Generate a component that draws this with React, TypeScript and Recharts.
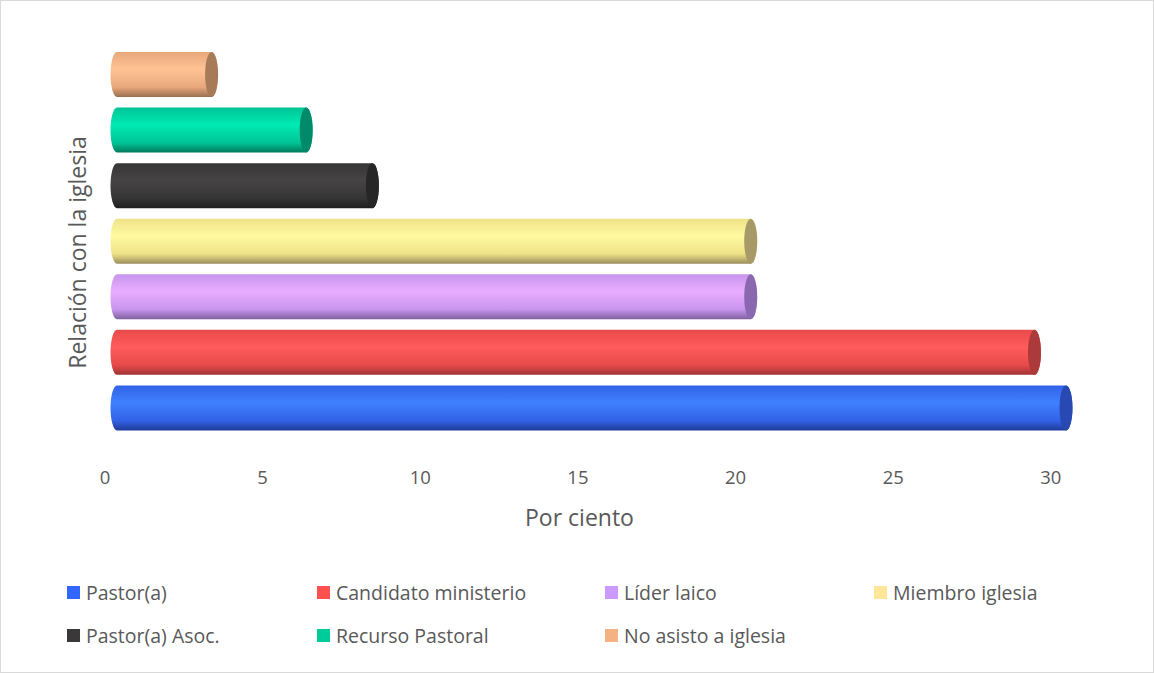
import { BarChart, Bar, XAxis, YAxis, Label } from 'recharts';

const categories = [
  'Pastor(a)',
  'Candidato ministerio',
  'Líder laico',
  'Miembro iglesia',
  'Pastor(a) Asoc.',
  'Recurso Pastoral',
  'No asisto a iglesia'
];
const values = [30.1, 29.1, 20.1, 20.1, 8.1, 6.0, 3.0];
const xTicks = [0, 5, 10, 15, 20, 25, 30];

// colours per category: legend swatch, body middle, body edge, body bottom, end cap
const swatch = ['#3366ff', '#ff5050', '#cc99ff', '#ffe699', '#3a3838', '#00cc99', '#f4b183'];
const bodyLight = ['#3f80ff', '#ff5c5c', '#e9adff', '#fffaa0', '#464444', '#00eab4', '#ffc393'];
const bodyMid = ['#3262e6', '#e84a4a', '#c795ee', '#f0e288', '#363535', '#00c496', '#e8a87c'];
const bodyDark = ['#1f3b98', '#9e3434', '#80609e', '#9a8e5e', '#1e1e1e', '#007a5c', '#9a7050'];
const capColor = ['#2848b2', '#ac3a3a', '#8a68b0', '#a89a68', '#262626', '#008a6a', '#a87b58'];

// legend placement (px from chart box)
const legendPos = [
  { left: 67, top: 585 },
  { left: 317, top: 585 },
  { left: 605, top: 585 },
  { left: 874, top: 585 },
  { left: 67, top: 628 },
  { left: 317, top: 628 },
  { left: 605, top: 628 }
];

const data = categories.map((name, i) => ({ name, value: values[i] }));

const FONT = '"Open Sans", sans-serif';
const TEXT = '#595959';

const Cylinder = (props: any) => {
  const { x, y, width, height, payload } = props;
  let i = categories.indexOf(payload?.name);
  if (i < 0) i = props.index ?? 0;
  const dx = 12;
  const rx = 6.5;
  const ry = height / 2;
  const x0 = x + dx;
  const x1 = x + dx + width;
  const id = `cyl-grad-${i}`;
  const d = `M${x0},${y} L${x1},${y} A${rx},${ry} 0 0 1 ${x1},${y + height} L${x0},${y + height} A${rx},${ry} 0 0 1 ${x0},${y} Z`;
  return (
    <g>
      <defs>
        <linearGradient id={id} x1="0" y1="0" x2="0" y2="1">
          <stop offset="0%" stopColor={bodyMid[i]} />
          <stop offset="38%" stopColor={bodyLight[i]} />
          <stop offset="78%" stopColor={bodyMid[i]} />
          <stop offset="100%" stopColor={bodyDark[i]} />
        </linearGradient>
      </defs>
      <path d={d} fill={`url(#${id})`} />
      <ellipse cx={x1} cy={y + ry} rx={rx} ry={ry} fill={capColor[i]} />
    </g>
  );
};

export default function App() {
  return (
    <div
      style={{
        position: 'relative',
        width: 1154,
        height: 673,
        background: '#fff',
        boxShadow: 'inset 0 0 0 1px #d9d9d9',
        fontFamily: FONT
      }}
    >
      <style>{'body{margin:0}'}</style>
      <BarChart
        width={1154}
        height={673}
        data={data}
        layout="vertical"
        margin={{ top: 47, right: 100, bottom: 147, left: 49 }}
        style={{ fontFamily: FONT }}
      >
        <XAxis
          type="number"
          domain={[0, 30]}
          ticks={xTicks}
          axisLine={false}
          tickLine={false}
          tickSize={0}
          tickMargin={35}
          height={90}
          tick={{ fill: TEXT, fontSize: 18.5 }}
        >
          <Label
            content={({ viewBox }: any) => (
              <text
                x={viewBox.x + viewBox.width / 2}
                y={viewBox.y + viewBox.height}
                textAnchor="middle"
                fill={TEXT}
                fontSize={23}
              >
                Por ciento
              </text>
            )}
          />
        </XAxis>
        <YAxis
          type="category"
          dataKey="name"
          reversed
          width={56}
          tick={false}
          axisLine={false}
          tickLine={false}
        >
          <Label
            content={({ viewBox }: any) => {
              const cx = viewBox.x + viewBox.width / 2;
              const cy = viewBox.y + viewBox.height / 2 + 11;
              return (
                <text
                  x={cx}
                  y={cy}
                  transform={`rotate(-90 ${cx} ${cy})`}
                  textAnchor="middle"
                  dominantBaseline="central"
                  fill={TEXT}
                  fontSize={23}
                >
                  Relación con la iglesia
                </text>
              );
            }}
          />
        </YAxis>
        <Bar dataKey="value" barSize={45} shape={<Cylinder />} isAnimationActive={false} />
      </BarChart>
      {categories.map((name, i) => (
        <div
          key={name}
          style={{
            position: 'absolute',
            left: legendPos[i].left,
            top: legendPos[i].top - 7,
            height: 28,
            display: 'flex',
            alignItems: 'center',
            whiteSpace: 'nowrap',
            color: TEXT,
            fontSize: 19.5
          }}
        >
          <span style={{ width: 13, height: 13, background: swatch[i], marginRight: 6, display: 'inline-block' }} />
          {name}
        </div>
      ))}
    </div>
  );
}
